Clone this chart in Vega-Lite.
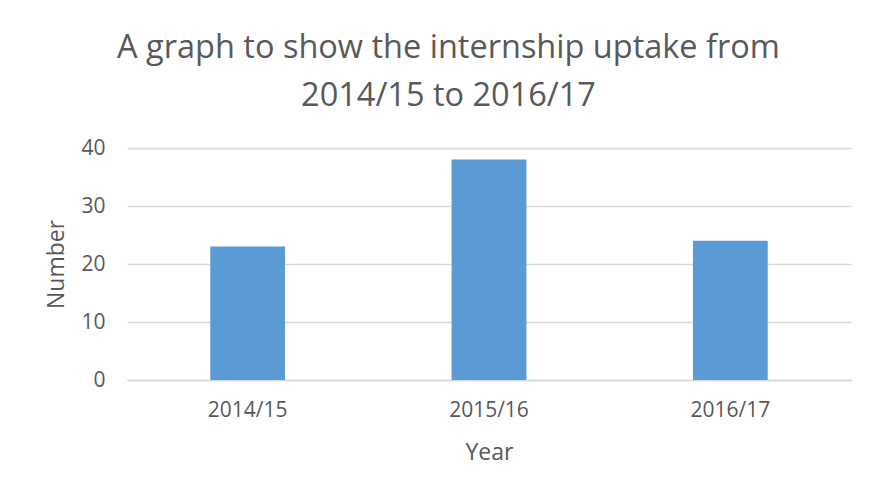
{
  "$schema": "https://vega.github.io/schema/vega-lite/v6.json",
  "width": 724,
  "height": 232,
  "autosize": {"type": "none"},
  "padding": {"left": 127, "top": 148, "right": 30, "bottom": 117},
  "background": "white",
  "title": {
    "text": ["A graph to show the internship uptake from", "2014/15 to 2016/17"],
    "font": "Open Sans",
    "fontSize": 32.5,
    "fontWeight": "normal",
    "color": "#595959",
    "lineHeight": 48,
    "anchor": "middle",
    "frame": "bounds",
    "offset": 25
  },
  "data": {
    "values": [
      {"Year": "2014/15", "Number": 23},
      {"Year": "2015/16", "Number": 38},
      {"Year": "2016/17", "Number": 24}
    ]
  },
  "mark": {"type": "bar", "color": "#5B9BD5"},
  "encoding": {
    "x": {
      "field": "Year",
      "type": "nominal",
      "scale": {"paddingInner": 0.69, "paddingOuter": 0.345},
      "axis": {
        "title": "Year",
        "labelAngle": 0,
        "ticks": false,
        "domainColor": "#D9D9D9",
        "domainWidth": 1.5,
        "labelPadding": 19,
        "titlePadding": 21
      }
    },
    "y": {
      "field": "Number",
      "type": "quantitative",
      "scale": {"domain": [0, 40]},
      "axis": {
        "title": "Number",
        "values": [0, 10, 20, 30, 40],
        "ticks": false,
        "domain": false,
        "gridColor": "#D9D9D9",
        "gridWidth": 1.5,
        "labelPadding": 22,
        "titlePadding": 12
      }
    }
  },
  "config": {
    "view": {"stroke": null},
    "axis": {
      "labelFont": "Open Sans",
      "labelFontSize": 21,
      "labelColor": "#595959",
      "titleFont": "Open Sans",
      "titleFontSize": 23,
      "titleFontWeight": "normal",
      "titleColor": "#595959"
    }
  }
}
